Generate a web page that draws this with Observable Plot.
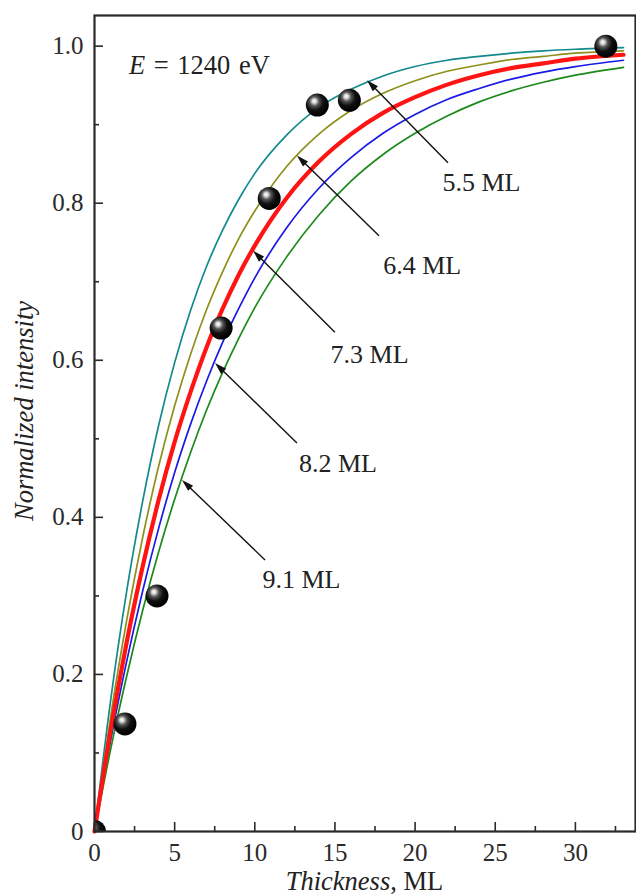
<!DOCTYPE html>
<html>
<head>
<meta charset="utf-8">
<script src="https://cdn.jsdelivr.net/npm/d3@7"></script>
<script src="https://cdn.jsdelivr.net/npm/@observablehq/plot@0.6"></script>
<style>
  html, body { margin: 0; padding: 0; background: #fff; }
  svg text, svg tspan { font-family: "Liberation Serif", serif !important; }
</style>
</head>
<body>
<div id="chart"></div>
<script>
// ---- data ----
const curveX = [0, 1, 2, 3, 4, 5, 6, 7, 8, 9, 10, 12, 14, 16, 18, 20, 22, 24, 26, 28, 30, 33];
const curve55 = [0, 0.166, 0.305, 0.420, 0.517, 0.597, 0.664, 0.720, 0.766, 0.805, 0.838, 0.887, 0.922, 0.945, 0.962, 0.974, 0.982, 0.987, 0.991, 0.994, 0.996, 0.998];
const curve64 = [0, 0.145, 0.268, 0.374, 0.465, 0.542, 0.608, 0.665, 0.713, 0.755, 0.790, 0.847, 0.888, 0.918, 0.940, 0.956, 0.968, 0.976, 0.983, 0.987, 0.991, 0.994];
const curve73 = [0, 0.128, 0.240, 0.337, 0.422, 0.496, 0.560, 0.617, 0.666, 0.709, 0.746, 0.807, 0.853, 0.888, 0.915, 0.935, 0.951, 0.963, 0.972, 0.978, 0.984, 0.989];
const curve82 = [0, 0.115, 0.216, 0.306, 0.386, 0.457, 0.519, 0.574, 0.623, 0.666, 0.705, 0.769, 0.819, 0.858, 0.889, 0.913, 0.932, 0.946, 0.958, 0.967, 0.974, 0.982];
const curve91 = [0, 0.104, 0.197, 0.281, 0.356, 0.423, 0.483, 0.537, 0.585, 0.628, 0.667, 0.732, 0.785, 0.828, 0.862, 0.889, 0.911, 0.929, 0.943, 0.954, 0.963, 0.973];

const pointX = [0, 1.9, 3.9, 7.9, 10.9, 13.9, 15.9, 31.9];
const pointY = [0, 0.137, 0.300, 0.641, 0.806, 0.925, 0.931, 1.0];

const arrowLabels = ["5.5 ML", "6.4 ML", "7.3 ML", "8.2 ML", "9.1 ML"];
const arrowTipX  = [17.03, 12.66, 9.92, 7.55, 5.49];
const arrowTipY  = [0.956, 0.860, 0.739, 0.596, 0.447];
const arrowTailX = [22.08, 17.78, 15.03, 12.66, 10.67];
const arrowTailY = [0.851, 0.758, 0.635, 0.494, 0.345];
const labelX = [24.14, 20.44, 17.16, 15.19, 12.91];
const labelY = [0.826, 0.720, 0.607, 0.468, 0.321];

const xMajorTicks = [0, 5, 10, 15, 20, 25, 30];
const xMinorTicks = [2.5, 7.5, 12.5, 17.5, 22.5, 27.5, 32.5];
const yMajorTicks = [0, 0.2, 0.4, 0.6, 0.8, 1.0];
const yMinorTicks = [0.1, 0.3, 0.5, 0.7, 0.9];

const energyLabel = {italic: "E", rest: " = 1240 eV", x: 2.18, y: 0.975};

// ---- build ----
const SERIF = "Liberation Serif";
const series = [
  {values: curve55, color: "#14898b", width: 1.7},
  {values: curve64, color: "#8f8f1c", width: 1.7},
  {values: curve82, color: "#1a1ae6", width: 1.7},
  {values: curve91, color: "#1b8a1b", width: 1.7},
  {values: curve73, color: "#ff1414", width: 4.2}
];
const lineMarks = series.map(s =>
  Plot.line(curveX.map((x, i) => ({x, y: s.values[i]})), {
    x: "x", y: "y", stroke: s.color, strokeWidth: s.width, curve: "monotone-x"
  })
);
const points = pointX.map((x, i) => ({x, y: pointY[i]}));
const labels = arrowLabels.map((t, i) => ({t, x: labelX[i], y: labelY[i]}));

function arrowsMark(index, scales) {
  const g = d3.create("svg:g");
  for (let i = 0; i < arrowLabels.length; i++) {
    const x1 = scales.x(arrowTailX[i]), y1 = scales.y(arrowTailY[i]);
    const x2 = scales.x(arrowTipX[i]), y2 = scales.y(arrowTipY[i]);
    const a = Math.atan2(y2 - y1, x2 - x1);
    const L = 12, W = 3.6;
    const bx = x2 - L * Math.cos(a), by = y2 - L * Math.sin(a);
    g.append("line").attr("x1", x1).attr("y1", y1).attr("x2", bx + 2 * Math.cos(a)).attr("y2", by + 2 * Math.sin(a))
      .attr("stroke", "#111").attr("stroke-width", 1.4);
    g.append("path")
      .attr("d", `M${x2},${y2}L${bx - W * Math.sin(a)},${by + W * Math.cos(a)}L${bx + W * Math.sin(a)},${by - W * Math.cos(a)}Z`)
      .attr("fill", "#111");
  }
  return g.node();
}

function energyMark(index, scales) {
  const t = d3.create("svg:text")
    .attr("x", scales.x(energyLabel.x))
    .attr("y", scales.y(energyLabel.y))
    .attr("dy", "0.32em")
    .attr("text-anchor", "start")
    .attr("font-family", SERIF)
    .attr("font-size", 26.5)
    .attr("word-spacing", 2)
    .attr("fill", "#222");
  t.append("tspan").attr("font-style", "italic").text(energyLabel.italic);
  t.append("tspan").text(energyLabel.rest);
  return t.node();
}

function axisLabelsMark(index, scales, values, dims) {
  const g = d3.create("svg:g").attr("fill", "#222").attr("font-family", SERIF).attr("font-size", 26.5);
  const cx = (dims.marginLeft + dims.width - dims.marginRight) / 2;
  const tx = g.append("text").attr("x", cx).attr("y", 890).attr("text-anchor", "middle");
  tx.append("tspan").attr("font-style", "italic").text("Thickness");
  tx.append("tspan").text(", ML");
  g.append("text").attr("transform", `translate(33,411) rotate(-90)`)
    .attr("text-anchor", "middle").attr("font-style", "italic").text("Normalized intensity");
  return g.node();
}

const fmtY = d => d === 0 ? "0" : d.toFixed(1);

const plot = Plot.plot({
  width: 636,
  height: 896,
  marginLeft: 94,
  marginRight: 1,
  marginTop: 15,
  marginBottom: 65,
  style: {fontFamily: SERIF, fontSize: "25px", color: "#2a2a2a", background: "#fff"},
  x: {domain: [0, 33.75]},
  y: {domain: [0, 1.039]},
  marks: [
    ...lineMarks,
    Plot.dot(points, {x: "x", y: "y", r: 11.5, fill: "black", clip: true}),
    arrowsMark,
    Plot.text(labels, {x: "x", y: "y", text: "t", textAnchor: "middle", fill: "#222", fontFamily: SERIF, fontSize: 26}),
    energyMark,
    Plot.axisX(xMajorTicks, {tickSize: 0, tickPadding: 12, label: null, tickFormat: d => String(d), fontFamily: SERIF}),
    Plot.axisX(xMajorTicks, {tickSize: -9, tickFormat: () => "", label: null, strokeWidth: 1.6}),
    Plot.axisX(xMinorTicks, {tickSize: -5, tickFormat: () => "", label: null, strokeWidth: 1.6}),
    Plot.axisY(yMajorTicks, {tickSize: 0, tickPadding: 11, label: null, tickFormat: fmtY, fontFamily: SERIF}),
    Plot.axisY(yMajorTicks, {tickSize: -9, tickFormat: () => "", label: null, strokeWidth: 1.6}),
    Plot.axisY(yMinorTicks, {tickSize: -5, tickFormat: () => "", label: null, strokeWidth: 1.6}),
    Plot.frame({stroke: "#2a2a2a", strokeWidth: 2.2}),
    axisLabelsMark
  ]
});

// sphere shading for the data points
const defs = d3.create("svg:defs");
const grad = defs.append("radialGradient").attr("id", "sphereShade")
  .attr("cx", "0.4").attr("cy", "0.38").attr("r", "0.6").attr("fx", "0.36").attr("fy", "0.32");
[["0", "#ffffff"], ["0.14", "#dcdcdc"], ["0.34", "#555555"], ["0.62", "#111111"], ["1", "#000000"]]
  .forEach(([o, c]) => grad.append("stop").attr("offset", o).attr("stop-color", c));
plot.insertBefore(defs.node(), plot.firstChild);
plot.querySelectorAll("circle").forEach(c => {
  c.setAttribute("fill", "url(#sphereShade)");
  c.style.fill = "url(#sphereShade)";
});
plot.querySelectorAll("text").forEach(t => t.setAttribute("font-family", SERIF));

document.getElementById("chart").appendChild(plot);
</script>
</body>
</html>
